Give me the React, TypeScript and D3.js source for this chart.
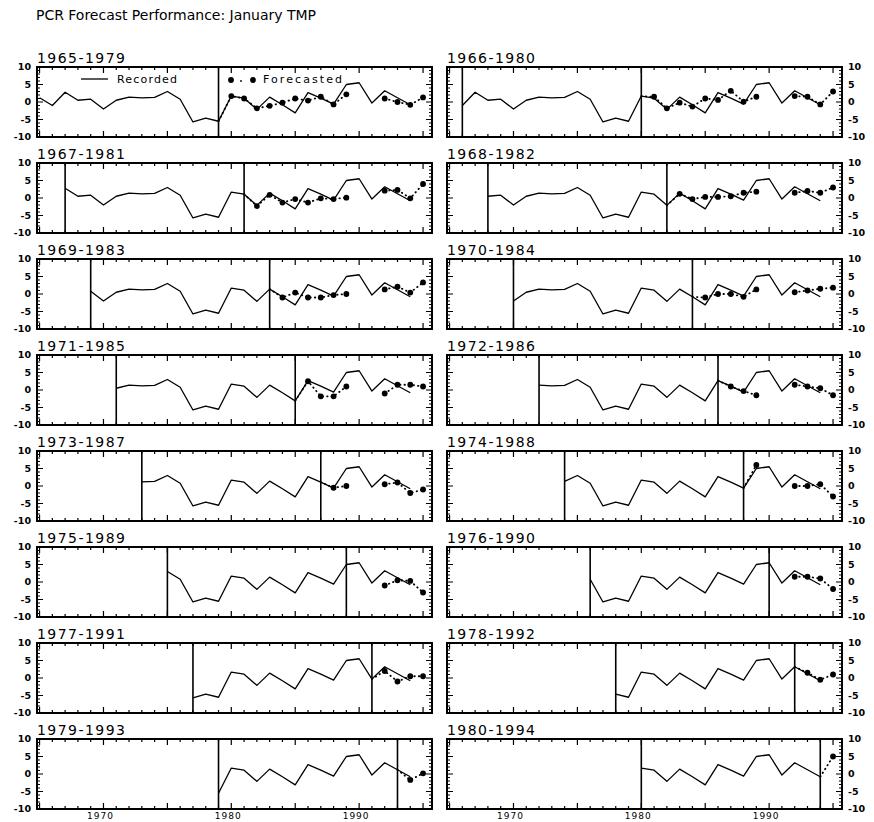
import React from 'react';
import * as d3 from 'd3';

// ---------------- DATA ----------------
const chartTitle = 'PCR Forecast Performance: January TMP';

const recordedYears = [
  1965, 1966, 1967, 1968, 1969, 1970, 1971, 1972, 1973, 1974,
  1975, 1976, 1977, 1978, 1979, 1980, 1981, 1982, 1983, 1984,
  1985, 1986, 1987, 1988, 1989, 1990, 1991, 1992, 1993, 1994,
];
const recordedValues = [
  1.2, -1.0, 2.8, 0.5, 0.8, -2.0, 0.5, 1.4, 1.2, 1.3,
  3.0, 0.8, -5.7, -4.6, -5.5, 1.7, 1.1, -2.1, 1.4, -0.8,
  -3.1, 2.7, 1.1, -0.6, 5.0, 5.5, -0.3, 3.2, 1.2, -0.8,
];

// training periods (start, end) for each panel
const periodStarts = [1965, 1966, 1967, 1968, 1969, 1970, 1971, 1972, 1973, 1974, 1975, 1976, 1977, 1978, 1979, 1980];
const periodEnds = [1979, 1980, 1981, 1982, 1983, 1984, 1985, 1986, 1987, 1988, 1989, 1990, 1991, 1992, 1993, 1994];

// forecasts for years end+1 .. 1995 (null = no forecast)
const forecastValues: (number | null)[][] = [
  [1.7, 1.0, -1.8, -1.1, -0.2, 1.0, 0.4, 1.5, -0.7, 2.2, null, null, 1.0, 0.0, -0.8, 1.3],
  [1.5, -1.8, -0.2, -1.3, 1.0, 0.6, 3.2, 0.1, 1.5, null, null, 1.7, 1.5, -0.7, 3.0],
  [-2.3, 0.9, -1.3, -0.3, -1.3, -0.1, -0.3, 0.1, null, null, 2.1, 2.3, -0.1, 4.0],
  [1.2, -0.3, 0.3, 0.3, 0.5, 1.5, 1.8, null, null, 1.5, 2.0, 1.5, 3.0],
  [-1.0, 0.4, -1.0, -1.0, -0.3, 0.0, null, null, 1.3, 2.1, 0.4, 3.3],
  [-1.0, 0.0, 0.0, -0.8, 1.3, null, null, 0.5, 1.0, 1.5, 1.8],
  [2.5, -1.8, -1.8, 1.0, null, null, -1.0, 1.5, 1.5, 1.0],
  [1.0, -0.3, -1.5, null, null, 1.5, 1.0, 0.5, -1.5],
  [-0.5, 0.0, null, null, 0.5, 1.0, -2.0, -1.0],
  [6.0, null, null, 0.0, 0.0, 0.5, -3.0],
  [null, null, -1.0, 0.5, 0.3, -3.0],
  [null, 1.5, 1.5, 1.0, -2.0],
  [2.0, -1.0, 0.5, 0.5],
  [1.5, -0.5, 1.0],
  [-1.7, 0.2],
  [5.0],
];

const yTickLabels = [10, 5, 0, -5, -10];
const xTickLabels = [1970, 1980, 1990];
const lastForecastYear = 1995;

// ---------------- LAYOUT ----------------
const W = 874;
const H = 822;
const colX = [37, 447];
const panelW = 395;
const panelH = 70;
const firstTop = 67;
const rowPitch = 96;
const FONT = "'DejaVu Sans', 'Liberation Sans', sans-serif";

type Pt = { year: number; value: number | null };

function Panel({ idx }: { idx: number }) {
  const col = idx % 2;
  const row = Math.floor(idx / 2);
  const x0 = colX[col];
  const top = firstTop + row * rowPitch;
  const start = periodStarts[idx];
  const end = periodEnds[idx];

  const x = d3.scaleLinear().domain([1964.8, 1995.7]).range([x0, x0 + panelW]);
  const y = d3.scaleLinear().domain([-10, 10]).range([top + panelH, top]);

  const rec: Pt[] = recordedYears
    .map((yr, i) => ({ year: yr, value: recordedValues[i] }))
    .filter((d) => d.year >= start);

  const fc: Pt[] = forecastValues[idx].map((v, i) => ({ year: end + 1 + i, value: v }));
  const endRec = rec.find((d) => d.year === end);
  const fcLine: Pt[] = [{ year: end, value: endRec ? endRec.value : null }, ...fc];

  const line = d3
    .line<Pt>()
    .defined((d) => d.value !== null)
    .x((d) => x(d.year))
    .y((d) => y(d.value as number));

  const yearTicks = d3.range(1965, lastForecastYear + 1);
  const valTicks = d3.range(-10, 11);

  const bottom = top + panelH;
  const right = x0 + panelW;

  return (
    <g>
      <text x={x0} y={top - 4} fontFamily={FONT} fontSize={14} textLength={88} lengthAdjust="spacing">
        {`${start}-${end}`}
      </text>
      {yearTicks.map((yr) => {
        const len = yr % 5 === 0 ? 6 : 3;
        const xx = x(yr);
        return (
          <g key={`xt${yr}`}>
            <line x1={xx} x2={xx} y1={top} y2={top + len} stroke="#000" strokeWidth={1.2} />
            <line x1={xx} x2={xx} y1={bottom} y2={bottom - len} stroke="#000" strokeWidth={1.2} />
          </g>
        );
      })}
      {valTicks.map((v) => {
        const len = v % 5 === 0 ? 6 : 3;
        const yy = y(v);
        return (
          <g key={`yt${v}`}>
            <line x1={x0} x2={x0 + len} y1={yy} y2={yy} stroke="#000" strokeWidth={1} />
            <line x1={right} x2={right - len} y1={yy} y2={yy} stroke="#000" strokeWidth={1} />
          </g>
        );
      })}
      {yTickLabels.map((v) => (
        <text
          key={`yl${v}`}
          x={col === 0 ? x0 - 6 : right + 6}
          y={y(v)}
          dy="0.35em"
          textAnchor={col === 0 ? 'end' : 'start'}
          fontFamily={FONT}
          fontSize={9.5}
          fontWeight="bold"
        >
          {v}
        </text>
      ))}
      {row === 7 &&
        xTickLabels.map((yr) => (
          <text
            key={`xl${yr}`}
            x={x(yr) - 3}
            y={bottom + 10}
            textAnchor="middle"
            fontFamily={FONT}
            fontSize={9}
            letterSpacing={1}
          >
            {yr}
          </text>
        ))}
      {start > 1965 && (
        <line x1={x(start)} x2={x(start)} y1={top} y2={bottom} stroke="#000" strokeWidth={1.6} />
      )}
      <line x1={x(end)} x2={x(end)} y1={top} y2={bottom} stroke="#000" strokeWidth={1.6} />
      <path d={line(rec) || ''} fill="none" stroke="#000" strokeWidth={1.3} strokeLinejoin="round" />
      <path
        d={line(fcLine) || ''}
        fill="none"
        stroke="#000"
        strokeWidth={1.8}
        strokeDasharray="0.5,4"
        strokeLinecap="round"
      />
      {fc
        .filter((d) => d.value !== null)
        .map((d) => (
          <circle key={`fc${d.year}`} cx={x(d.year)} cy={y(d.value as number)} r={2.9} fill="#000" />
        ))}
      <rect x={x0} y={top} width={panelW} height={panelH} fill="none" stroke="#000" strokeWidth={2} />
      {idx === 0 && (
        <g>
          <line x1={81} x2={108} y1={79} y2={79} stroke="#000" strokeWidth={1.3} />
          <text x={117} y={83} fontFamily={FONT} fontSize={11} textLength={60} lengthAdjust="spacing">
            Recorded
          </text>
          <circle cx={231} cy={80} r={2.9} fill="#000" />
          <circle cx={241} cy={81} r={0.9} fill="#000" />
          <circle cx={253} cy={80} r={2.9} fill="#000" />
          <text x={263} y={83} fontFamily={FONT} fontSize={11} textLength={79} lengthAdjust="spacing">
            Forecasted
          </text>
        </g>
      )}
    </g>
  );
}

export default function App() {
  return (
    <svg
      width={W}
      height={H}
      viewBox={`0 0 ${W} ${H}`}
      style={{ position: 'absolute', left: 0, top: 0, background: '#fff' }}
    >
      <rect x={0} y={0} width={W} height={H} fill="#fff" />
      <text x={36} y={20} fontFamily={FONT} fontSize={14} textLength={280} lengthAdjust="spacing">
        {chartTitle}
      </text>
      {periodStarts.map((_, i) => (
        <Panel key={i} idx={i} />
      ))}
    </svg>
  );
}
